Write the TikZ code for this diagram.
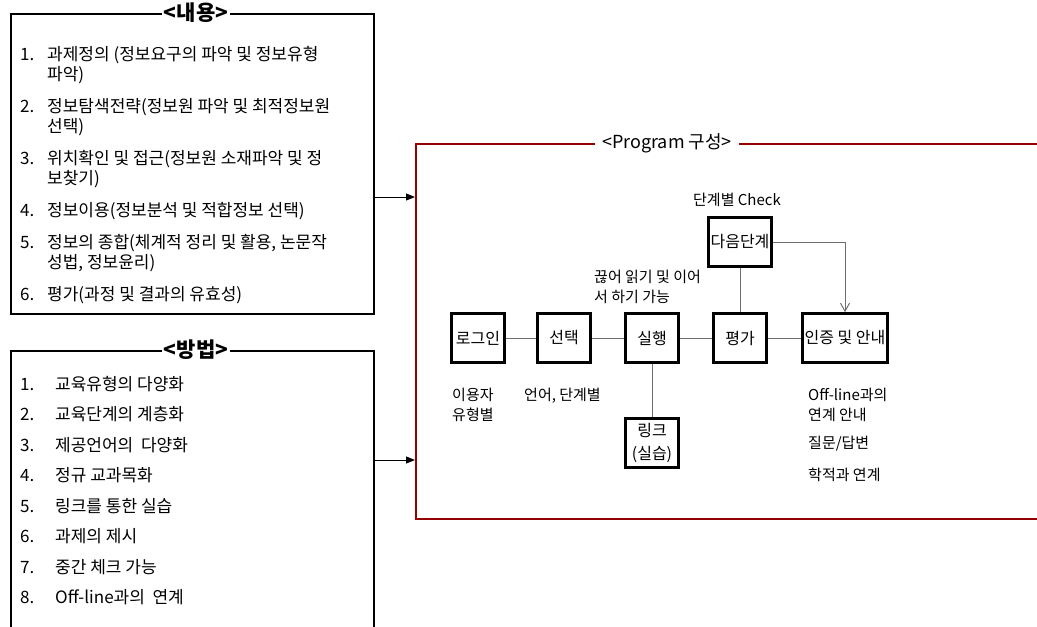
\documentclass[tikz,border=0pt]{standalone}
\usepackage{fontspec}
\setmainfont{Noto Sans CJK KR}
\usepackage{tikz}
\usetikzlibrary{arrows.meta,positioning}
\definecolor{progred}{RGB}{150,0,0}
\definecolor{linkgray}{RGB}{110,110,110}

\begin{document}
\begin{tikzpicture}[x=1pt,y=-1pt,
  stepbox/.style={draw=black, line width=2.5pt, inner sep=0pt,
    minimum width=53pt, minimum height=49pt, align=center,
    font=\fontsize{16}{23}\selectfont},
  link/.style={draw=linkgray, line width=1pt},
  note/.style={inner sep=0pt, anchor=base west, align=left,
    font=\fontsize{15}{20}\selectfont},
  item/.style={inner sep=0pt, anchor=base west,
    font=\fontsize{17}{20}\selectfont},
  frame/.style={draw=black, line width=2pt, inner sep=0pt,
    anchor=north west},
  frametitle/.style={fill=white, inner sep=2pt,
    font=\bfseries\fontsize{21}{24}\selectfont}]
  \useasboundingbox (0,0) rectangle (1037,627);

  % left frames
  \node[frame, minimum width=363pt, minimum height=300pt] (boxCont) at (10,13) {};
  \node[frametitle] (tCont) at (196,13) {<내용>};
  \node[frame, minimum width=363pt, minimum height=300pt] (boxMeth) at (10,350) {};
  \node[frametitle] (tMeth) at (196,350) {<방법>};

  % program frame
  \node[frame, draw=progred, minimum width=640pt, minimum height=375pt] (boxProg) at (415,143) {};
  \node[frametitle, font=\fontsize{18}{20}\selectfont, inner sep=7pt] (tProg) at (667,143) {<Program 구성>};

  \node[item] (c1) at (20,60) {\begin{tabular}[t]{@{}p{27pt}@{}l@{}}1. & 과제정의 (정보요구의 파악 및 정보유형\\ & 파악)\end{tabular}};
  \node[item] (c2) at (20,112) {\begin{tabular}[t]{@{}p{27pt}@{}l@{}}2. & 정보탐색전략(정보원 파악 및 최적정보원\\ & 선택)\end{tabular}};
  \node[item] (c3) at (20,164) {\begin{tabular}[t]{@{}p{27pt}@{}l@{}}3. & 위치확인 및 접근(정보원 소재파악 및 정\\ & 보찾기)\end{tabular}};
  \node[item] (c4) at (20,216) {\begin{tabular}[t]{@{}p{27pt}@{}l@{}}4. & 정보이용(정보분석 및 적합정보 선택)\end{tabular}};
  \node[item] (c5) at (20,248) {\begin{tabular}[t]{@{}p{27pt}@{}l@{}}5. & 정보의 종합(체계적 정리 및 활용, 논문작\\ & 성법, 정보윤리)\end{tabular}};
  \node[item] (c6) at (20,300) {\begin{tabular}[t]{@{}p{27pt}@{}l@{}}6. & 평가(과정 및 결과의 유효성)\end{tabular}};

  \node[item] (m1) at (20,390) {\begin{tabular}[t]{@{}p{35pt}@{}l@{}}1. & 교육유형의 다양화\end{tabular}};
  \node[item] (m2) at (20,420.5) {\begin{tabular}[t]{@{}p{35pt}@{}l@{}}2. & 교육단계의 계층화\end{tabular}};
  \node[item] (m3) at (20,451) {\begin{tabular}[t]{@{}p{35pt}@{}l@{}}3. & 제공언어의~ 다양화\end{tabular}};
  \node[item] (m4) at (20,481.5) {\begin{tabular}[t]{@{}p{35pt}@{}l@{}}4. & 정규 교과목화\end{tabular}};
  \node[item] (m5) at (20,512) {\begin{tabular}[t]{@{}p{35pt}@{}l@{}}5. & 링크를 통한 실습\end{tabular}};
  \node[item] (m6) at (20,542.5) {\begin{tabular}[t]{@{}p{35pt}@{}l@{}}6. & 과제의 제시\end{tabular}};
  \node[item] (m7) at (20,573) {\begin{tabular}[t]{@{}p{35pt}@{}l@{}}7. & 중간 체크 가능\end{tabular}};
  \node[item] (m8) at (20,603.5) {\begin{tabular}[t]{@{}p{35pt}@{}l@{}}8. & Off-line과의~ 연계\end{tabular}};

  % arrows into program
  \coordinate (aCont) at (373,197);
  \coordinate (aMeth) at (373,460);
  \draw[line width=1pt, -{Triangle[length=9pt,width=7pt]}] (aCont) -- (aCont -| boxProg.west);
  \draw[line width=1pt, -{Triangle[length=9pt,width=7pt]}] (aMeth) -- (aMeth -| boxProg.west);

  % steps
  \node[stepbox] (rLogin) at (478,338) {로그인};
  \node[stepbox] (rSel) at (564,338) {선택};
  \node[stepbox] (rRun) at (652,338) {실행};
  \node[stepbox] (rEval) at (740,338) {평가};
  \node[stepbox, minimum width=85pt] (rCert) at (845,338) {인증 및 안내};
  \node[stepbox, minimum width=63pt] (rNext) at (740,242) {다음단계};
  \node[stepbox] (rLink) at (652,443) {링크\\(실습)};

  \draw[link] (rLogin) -- (rSel);
  \draw[link] (rSel) -- (rRun);
  \draw[link] (rRun) -- (rEval);
  \draw[link] (rEval) -- (rCert);
  \draw[link] (rRun) -- (rLink);
  \draw[link] (rNext) -- (rEval);
  \draw[link, -{Straight Barb[length=8pt,width=9pt]}] (rNext.east) -| (rCert.north);

  % notes
  \node[note, anchor=base] (nCheck) at (737,205) {단계별 Check};
  \node[note] (nResume) at (594,302) {끊어 읽기 및 이어\\서 하기 가능};
  \node[note] (nUser) at (452,420) {이용자\\유형별};
  \node[note] (nLang) at (524,400) {언어, 단계별};
  \node[note] (nOff) at (808,420) {Off-line과의\\연계 안내};
  \node[note] (nQna) at (808,448) {질문/답변};
  \node[note] (nReg) at (808,480) {학적과 연계};
\end{tikzpicture}
\end{document}
